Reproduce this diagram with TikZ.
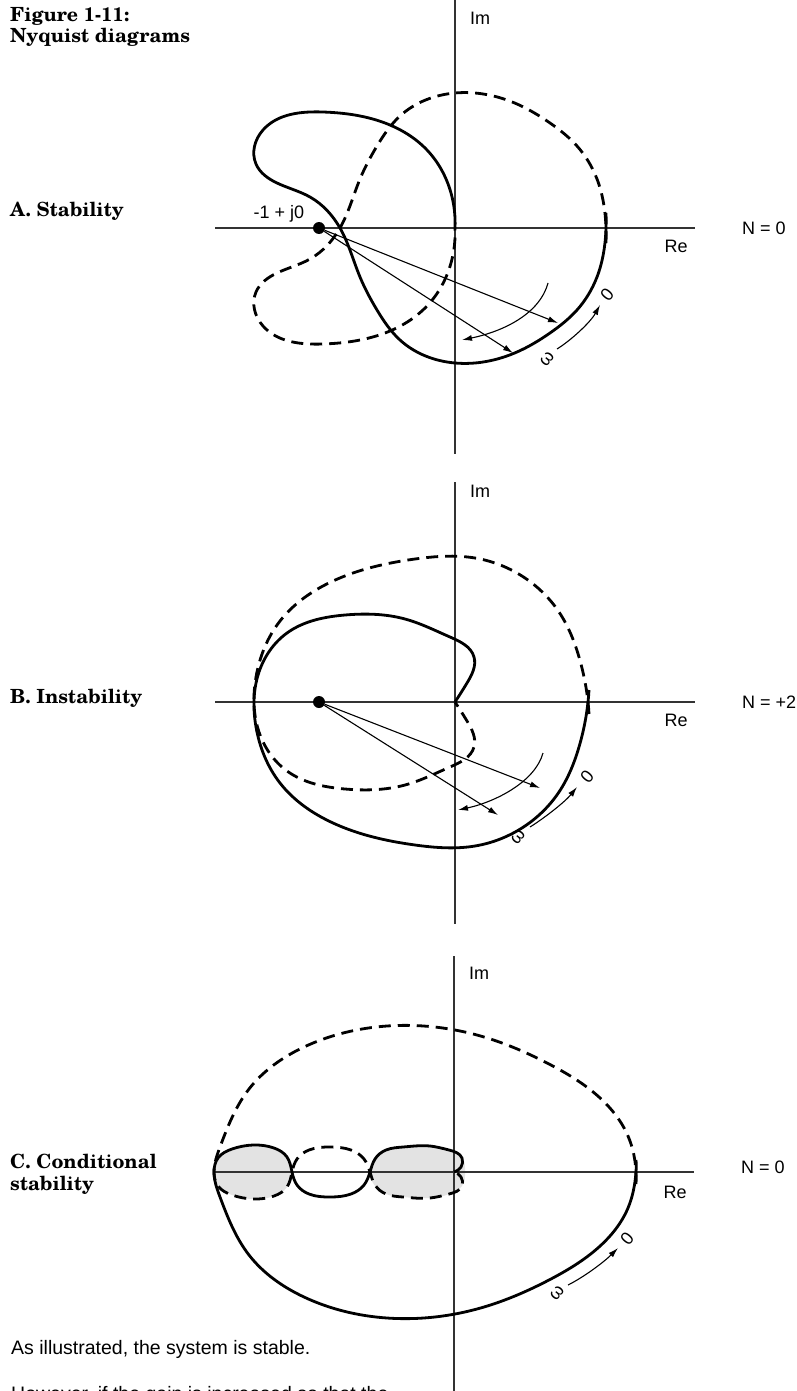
\documentclass[tikz,border=0pt]{standalone}
\usepackage{fontspec}
\setmainfont{Liberation Sans}
\newfontfamily\schola{TeX Gyre Schola}
\usetikzlibrary{arrows.meta,hobby}
\begin{document}
\begin{tikzpicture}[x=1pt,y=1pt,
  axis/.style={line width=1.2pt, draw=black!80},
  curve/.style={line width=2.8pt, line join=round, line cap=butt, use Hobby shortcut},
  dcurve/.style={curve, dash pattern=on 12pt off 7pt},
  vec/.style={line width=1.1pt, -{Latex[length=10pt,width=6pt]}},
  dot/.style={circle, fill=black, inner sep=0pt, minimum size=12pt},
  lbl/.style={font=\fontsize{18}{20}\selectfont, inner sep=0pt},
  ttl/.style={font=\schola\bfseries\fontsize{19.5}{22}\selectfont, inner sep=0pt, anchor=base west},
  body/.style={font=\fontsize{19.5}{22}\selectfont, inner sep=0pt, anchor=base west},
  lobe/.style={fill=black!11, draw=none}]
\clip (0,0) rectangle (797,-1391);
\fill[white] (0,0) rectangle (797,-1391);

% titles
\node[ttl] (title1) at (10,-22) {Figure 1-11:};
\node[ttl] (title2) at (10,-43) {Nyquist diagrams};
\node[ttl] (A-title) at (10,-216) {A. Stability};
\node[ttl] (B-title) at (10,-703) {B. Instability};
\node[ttl] (C-title1) at (10,-1168) {C. Conditional};
\node[ttl] (C-title2) at (10,-1190) {stability};
\node[body] (txt1) at (11,-1354) {As illustrated, the system is stable.};
\node[body] (txt2) at (11,-1400) {However, if the gain is increased so that the};

% ---------------- Panel A ----------------
\begin{scope}[shift={(455,-228)}]
  \draw[axis] (-240,0) -- (240,0);
  \draw[axis] (0,230) -- (0,-226);
  \node[lbl, anchor=west] (A-im) at (15,210) {Im};
  \node[lbl] (A-re) at (221,-18) {Re};
  \node[lbl, anchor=west] (A-n) at (287,0) {N = 0};
  \node[lbl] (A-pl) at (-176,14) {-1 + j0};
  \draw[curve] (151,15) .. (151,0) .. (142,-49) .. (122,-82) .. (95,-105) .. (62,-124) .. (0,-135) .. (-55,-112) .. (-78,-82) .. (-95,-49) .. (-115,0) .. (-145,31) .. (-178,45) .. (-199,64) .. (-192,98) .. (-132,116) .. (-70,105) .. (-28,78) .. (-4,35) .. (0,0);
  \begin{scope}[yscale=-1]
  \draw[dcurve] (151,15) .. (151,0) .. (142,-49) .. (122,-82) .. (95,-105) .. (62,-124) .. (0,-135) .. (-55,-112) .. (-78,-82) .. (-95,-49) .. (-115,0) .. (-145,31) .. (-178,45) .. (-199,64) .. (-192,98) .. (-132,116) .. (-70,105) .. (-28,78) .. (-4,35) .. (0,0);
  \end{scope}
  \node[dot] (A-p) at (-136,0) {};
  \coordinate (A-t1) at (103,-95);
  \coordinate (A-t2) at (58,-125);
  \draw[vec] (A-p) -- (A-t1);
  \draw[vec] (A-p) -- (A-t2);
  \coordinate (A-c1) at (93,-55);
  \coordinate (A-c2) at (7,-112);
  \draw[vec] (A-c1) .. controls (85,-85) and (50,-103) .. (A-c2);
  \coordinate (A-w1) at (102,-121);
  \coordinate (A-w2) at (145,-77);
  \draw[vec] (A-w1) .. controls (115,-113) and (135,-95) .. (A-w2);
  \node[lbl, rotate=50] (A-zero) at (152,-67) {0};
  \node[lbl, rotate=50] (A-om) at (92,-131) {ω};
\end{scope}

% ---------------- Panel B ----------------
\begin{scope}[shift={(455,-702)}]
  \draw[axis] (-240,0) -- (240,0);
  \draw[axis] (0,220) -- (0,-222);
  \node[lbl, anchor=west] (B-im) at (15,211) {Im};
  \node[lbl] (B-re) at (221,-18) {Re};
  \node[lbl, anchor=west] (B-n) at (287,0) {N = +2};
  \draw[curve] (134,12) .. (133,0) .. (124,-45) .. (104,-90) .. (70,-124) .. (20,-144) .. (-40,-143) .. (-122,-121) .. (-175,-81) .. (-199,-25) .. (-196,30) .. (-168,69) .. (-110,87) .. (-50,83) .. (-5,65) .. (19,45) .. (12,19) .. (0,0);
  \begin{scope}[yscale=-1]
  \draw[dcurve] (134,12) .. (133,0) .. (124,-45) .. (104,-90) .. (70,-124) .. (20,-144) .. (-40,-143) .. (-122,-121) .. (-175,-81) .. (-199,-25) .. (-196,30) .. (-168,69) .. (-110,87) .. (-50,83) .. (-5,65) .. (19,45) .. (12,19) .. (0,0);
  \end{scope}
  \node[dot] (B-p) at (-136,0) {};
  \coordinate (B-t1) at (85,-86);
  \coordinate (B-t2) at (43,-113);
  \draw[vec] (B-p) -- (B-t1);
  \draw[vec] (B-p) -- (B-t2);
  \coordinate (B-c1) at (88,-51);
  \coordinate (B-c2) at (3,-108);
  \draw[vec] (B-c1) .. controls (80,-80) and (40,-100) .. (B-c2);
  \coordinate (B-w1) at (75,-125);
  \coordinate (B-w2) at (122,-85);
  \draw[vec] (B-w1) .. controls (88,-117) and (110,-100) .. (B-w2);
  \node[lbl, rotate=50] (B-zero) at (132,-75) {0};
  \node[lbl, rotate=50] (B-om) at (63,-135) {ω};
\end{scope}

% ---------------- Panel C ----------------
\begin{scope}[shift={(454,-1172)}]
  \fill[lobe] plot[smooth cycle, tension=0.75] coordinates {(-84,0) (-79,14) (-68,22) (-51,25) (-24,26) (-5,22) (8,14) (11,0) (8,-14) (-5,-22) (-24,-26) (-51,-25) (-68,-22) (-79,-14)};
  \fill[lobe] plot[smooth cycle, tension=0.75] coordinates {(-240,0) (-236,14) (-222,23) (-201,27) (-180,24) (-167,15) (-162,0) (-167,-15) (-180,-24) (-201,-27) (-222,-23) (-236,-14)};
  \draw[axis] (-240,0) -- (240,0);
  \draw[axis] (0,216) -- (0,-225);
  \node[lbl, anchor=west] (C-im) at (15,199) {Im};
  \node[lbl] (C-re) at (221,-20) {Re};
  \node[lbl, anchor=west] (C-n) at (287,5) {N = 0};
  \draw[curve] (182,12) .. (182,0) .. (174,-36) .. (145,-75) .. (95,-108) .. (30,-135) .. (-67,-146) .. (-150,-125) .. (-205,-83) .. (-234,-25) .. (-240,0) .. (-236,14) .. (-222,23) .. (-201,27) .. (-180,24) .. (-167,15) .. (-162,0) .. (-157,-13) .. (-145,-22) .. (-124,-25) .. (-103,-22) .. (-90,-13) .. (-84,0) .. (-79,13) .. (-68,22) .. (-51,25) .. (-24,26) .. (-5,22) .. (8,14) .. (7,5) .. (0,0);
  \begin{scope}[yscale=-1]
  \draw[dcurve] (182,12) .. (182,0) .. (174,-36) .. (145,-75) .. (95,-108) .. (30,-135) .. (-67,-146) .. (-150,-125) .. (-205,-83) .. (-234,-25) .. (-240,0) .. (-236,14) .. (-222,23) .. (-201,27) .. (-180,24) .. (-167,15) .. (-162,0) .. (-157,-13) .. (-145,-22) .. (-124,-25) .. (-103,-22) .. (-90,-13) .. (-84,0) .. (-79,13) .. (-68,22) .. (-51,25) .. (-24,26) .. (-5,22) .. (8,14) .. (7,5) .. (0,0);
  \end{scope}
  \coordinate (C-w1) at (114,-113);
  \coordinate (C-w2) at (164,-76);
  \draw[vec] (C-w1) .. controls (130,-105) and (150,-90) .. (C-w2);
  \node[lbl, rotate=50] (C-zero) at (173,-67) {0};
  \node[lbl, rotate=50] (C-om) at (103,-121) {ω};
\end{scope}
\end{tikzpicture}
\end{document}
